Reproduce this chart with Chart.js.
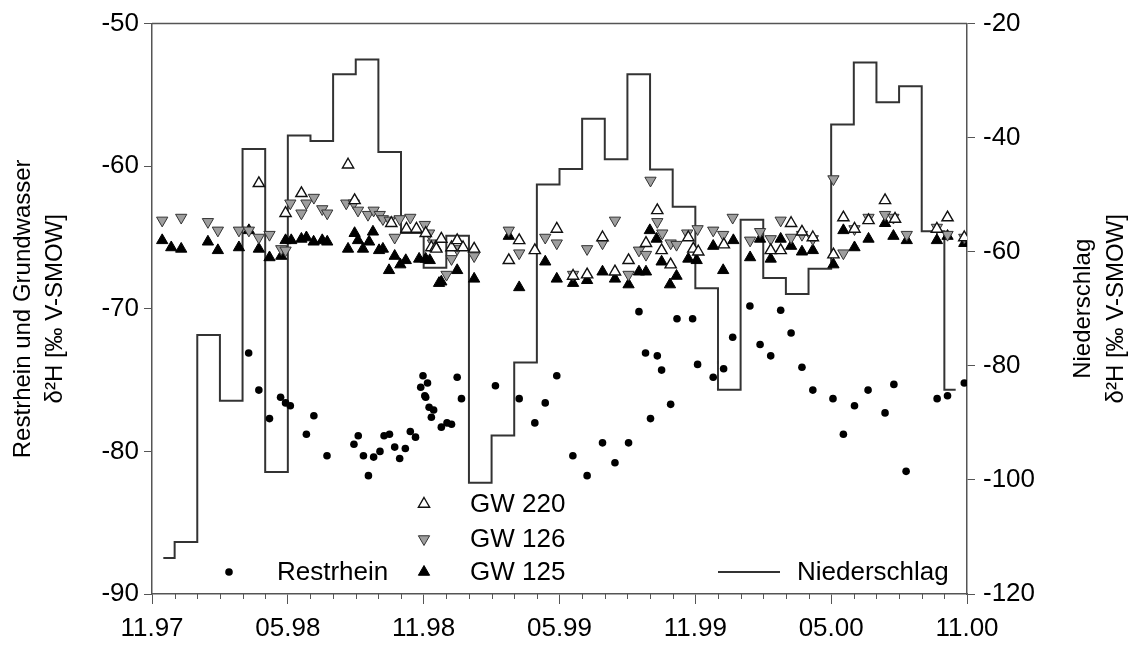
<!DOCTYPE html>
<html>
<head>
<meta charset="utf-8">
<script src="https://cdn.jsdelivr.net/npm/chart.js@4.4.1/dist/chart.umd.min.js"></script>
<style>
  body { margin: 0; background: #fff; }
  #wrap { width: 1132px; height: 646px; }
</style>
</head>
<body>
<div id="wrap"><canvas id="isoChart"></canvas></div>
<script>
// x-Achse: Monate seit 11.97 (0 = Nov 1997, 36 = Nov 2000)
const tickLabels = ["11.97", "05.98", "11.98", "05.99", "11.99", "05.00", "11.00"];

// Niederschlag, Monatswerte (Stufenlinie, rechte Achse)
const niederMonths = [0.5, 1, 2, 3, 4, 5, 6, 7, 8, 9, 10, 11, 12, 13, 14, 15, 16, 17,
  18, 19, 20, 21, 22, 23, 24, 25, 26, 27, 28, 29, 30, 31, 32, 33, 34, 35, 35.5];
const niederValues = [-113.7, -110.9, -74.6, -86.1, -42.0, -98.6, -39.6, -40.6, -28.9, -26.3,
  -42.5, -56.7, -62.8, -57.2, -100.5, -92.2, -79.4, -48.2, -45.5, -36.7, -43.8, -28.9,
  -45.6, -52.1, -66.4, -84.2, -54.4, -64.6, -67.4, -63.0, -37.7, -26.8, -33.8, -31.0,
  -56.4, -84.2, -84.2];

// Restrhein
const rheinMonths = [4.27, 4.72, 5.19, 5.68, 5.90, 6.11, 6.82, 7.15, 7.73, 8.92, 9.11, 9.34,
  9.56, 9.79, 10.07, 10.25, 10.49, 10.72, 10.94, 11.19, 11.41, 11.64, 11.87, 11.97, 12.05,
  12.09, 12.17, 12.24, 12.34, 12.44, 12.78, 13.03, 13.23, 13.48, 13.67, 15.17, 16.22, 16.91,
  17.37, 17.88, 18.59, 19.22, 19.90, 20.45, 21.05, 21.51, 21.80, 22.02, 22.32, 22.51, 22.91,
  23.19, 23.88, 24.10, 24.79, 25.25, 25.65, 26.41, 26.86, 27.33, 27.77, 28.23, 28.71, 29.19,
  30.08, 30.54, 31.03, 31.63, 32.38, 32.77, 33.31, 34.68, 35.14, 35.88];
const rheinValues = [-73.1, -75.7, -77.7, -76.2, -76.6, -76.8, -78.8, -77.5, -80.3, -79.5, -78.9, -80.3,
  -81.7, -80.4, -80.0, -78.9, -78.8, -79.7, -80.5, -79.8, -78.6, -79.0, -75.5, -74.7, -76.1,
  -76.2, -75.2, -76.9, -77.6, -77.1, -78.3, -78.0, -78.1, -74.8, -76.3, -75.4, -76.3, -78.0,
  -76.6, -74.7, -80.3, -81.7, -79.4, -80.8, -79.4, -70.2, -73.1, -77.7, -73.3, -74.3, -76.7,
  -70.7, -70.7, -73.9, -74.8, -74.2, -72.0, -69.8, -72.5, -73.3, -70.1, -71.7, -74.1, -75.7,
  -76.3, -78.8, -76.8, -75.7, -77.3, -75.3, -81.4, -76.3, -76.1, -75.2];

// GW 220
const gw220Months = [4.72, 5.90, 6.60, 8.66, 8.95, 10.57, 11.24, 11.68, 12.09, 12.34, 12.53, 12.56,
  12.78, 13.23, 13.48, 13.74, 14.23, 15.76, 16.22, 16.91, 17.88, 18.60, 19.22, 19.90, 20.45,
  21.05, 21.82, 22.32, 22.51, 22.91, 23.69, 23.91, 24.13, 25.26, 27.33, 27.77, 28.23, 28.71,
  29.19, 30.10, 30.54, 31.03, 31.65, 32.38, 32.82, 34.67, 35.14, 35.88];
const gw220Values = [-61.2, -63.3, -61.9, -59.9, -62.4, -64.0, -64.4, -64.4, -64.7, -65.7, -65.7, -65.8,
  -65.1, -65.7, -65.2, -65.7, -65.8, -66.6, -65.2, -65.9, -64.4, -67.7, -67.6, -65.0, -67.4,
  -66.6, -65.4, -63.1, -65.9, -66.9, -65.0, -65.8, -66.0, -65.5, -65.9, -65.9, -64.0, -64.6,
  -65.0, -66.2, -63.6, -64.4, -63.8, -62.4, -63.7, -64.4, -63.6, -65.0];

// GW 126
const gw126Months = [0.45, 1.29, 2.47, 2.91, 3.84, 4.28, 4.72, 5.19, 5.71, 5.90, 6.11, 6.60, 6.82,
  7.15, 7.52, 7.74, 8.58, 8.91, 9.10, 9.54, 9.79, 10.06, 10.20, 10.50, 10.72, 10.94, 11.41,
  12.05, 12.24, 12.41, 13.01, 13.23, 13.48, 14.23, 15.76, 16.22, 17.37, 17.88, 18.60, 19.22,
  19.90, 20.45, 21.05, 21.51, 21.82, 22.02, 22.32, 22.54, 22.91, 23.17, 23.64, 24.10, 24.79,
  25.23, 25.65, 26.42, 26.86, 27.33, 27.77, 28.23, 28.71, 29.19, 30.10, 30.54, 31.03, 31.65,
  32.38, 32.75, 33.34, 34.67, 35.14, 35.88];
const gw126Values = [-63.8, -63.6, -63.9, -64.5, -64.5, -64.5, -65.0, -64.8, -65.8, -65.9, -62.6, -63.3, -62.6,
  -62.2, -63.0, -63.3, -62.6, -62.6, -63.1, -63.4, -63.1, -63.4, -63.7, -63.8, -65.0, -63.7, -63.6,
  -64.1, -64.7, -65.4, -67.6, -66.5, -65.8, -66.3, -64.5, -66.1, -65.0, -65.4, -67.6, -65.8,
  -65.4, -63.8, -67.6, -65.9, -66.2, -61.0, -63.9, -64.7, -65.4, -65.5, -64.7, -64.4, -64.5,
  -64.8, -63.6, -65.2, -64.6, -65.1, -63.8, -65.0, -64.8, -65.1, -60.9, -66.1, -64.4, -63.6,
  -63.4, -63.6, -64.8, -64.3, -64.8, -65.0];

// GW 125
const gw125Months = [0.45, 0.85, 1.29, 2.47, 2.91, 3.84, 4.28, 4.72, 5.19, 5.71, 5.90, 6.15, 6.60,
  6.82, 7.14, 7.52, 7.74, 8.66, 8.95, 9.10, 9.32, 9.59, 9.76, 10.03, 10.20, 10.47, 10.72, 10.97,
  11.21, 11.80, 12.09, 12.27, 12.68, 12.78, 13.48, 14.23, 15.76, 16.22, 17.37, 17.88, 18.60,
  19.22, 19.90, 20.45, 21.05, 21.51, 21.82, 21.99, 22.29, 22.51, 22.88, 23.17, 23.69, 24.06,
  24.79, 25.23, 25.68, 26.42, 26.86, 27.33, 27.77, 28.23, 28.71, 29.19, 30.10, 30.54, 31.03,
  31.65, 32.38, 32.75, 33.34, 34.67, 35.14, 35.88];
const gw125Values = [-65.2, -65.7, -65.8, -65.3, -65.9, -65.7, -64.5, -65.8, -66.4, -66.3, -65.2, -65.2, -65.1,
  -65.0, -65.3, -65.2, -65.3, -65.8, -64.7, -65.2, -65.8, -65.3, -64.6, -65.9, -65.8, -67.3, -66.3, -66.9,
  -66.6, -66.5, -66.5, -66.6, -68.2, -68.1, -67.3, -67.9, -64.9, -68.5, -66.7, -67.9, -68.2,
  -68.0, -67.4, -67.9, -68.3, -67.4, -67.4, -64.5, -65.1, -66.7, -68.3, -67.7, -66.5, -66.6,
  -65.6, -67.3, -65.2, -66.4, -65.1, -66.5, -65.1, -65.6, -66.0, -65.9, -66.9, -64.5, -65.7,
  -65.1, -64.0, -64.9, -65.2, -65.2, -64.9, -65.4];

const toPoints = (xs, ys) => xs.map((x, i) => ({ x: x, y: ys[i] }));

const fontFamily = "'Liberation Sans', Arial, sans-serif";
const axisColor = "#555";

// Legende wird selbst gezeichnet (Anordnung wie im Original)
const legendSpots = [
  { ds: 4, label: "GW 220", sx: 424, tx: 470, y: 504 },
  { ds: 3, label: "GW 126", sx: 424, tx: 470, y: 539 },
  { ds: 1, label: "Restrhein", sx: 229, tx: 277, y: 572 },
  { ds: 2, label: "GW 125", sx: 424, tx: 470, y: 572 },
  { ds: 0, label: "Niederschlag", sx: 749, tx: 797, y: 572 }
];

const extrasPlugin = {
  id: "extras",
  afterDraw(chart) {
    const ctx = chart.ctx;
    const area = chart.chartArea;
    const xs = chart.scales.x;
    ctx.save();

    // Rahmen oben
    ctx.strokeStyle = axisColor;
    ctx.lineWidth = 1.5;
    ctx.beginPath();
    ctx.moveTo(area.left, area.top);
    ctx.lineTo(area.right, area.top);
    ctx.stroke();

    // Zwischenstriche (Monate)
    ctx.lineWidth = 1;
    ctx.beginPath();
    for (let m = 1; m < 36; m++) {
      if (m % 6 === 0) continue;
      const x = Math.round(xs.getPixelForValue(m)) + 0.5;
      ctx.moveTo(x, area.bottom);
      ctx.lineTo(x, area.bottom + 5);
    }
    ctx.stroke();

    // Titel rechte Achse (von unten nach oben gelesen)
    ctx.fillStyle = "#000";
    ctx.font = "24px " + fontFamily;
    ctx.textAlign = "center";
    ctx.textBaseline = "middle";
    ctx.save();
    ctx.translate(1083, (area.top + area.bottom) / 2);
    ctx.rotate(-Math.PI / 2);
    ctx.fillText("Niederschlag", 0, 0);
    ctx.fillText("δ²H [‰ V-SMOW]", 0, 33);
    ctx.restore();

    // Legende
    ctx.font = "26px " + fontFamily;
    ctx.textAlign = "left";
    legendSpots.forEach(item => {
      const ds = chart.data.datasets[item.ds];
      if (ds.type === "line") {
        ctx.strokeStyle = ds.borderColor;
        ctx.lineWidth = ds.borderWidth;
        ctx.beginPath();
        ctx.moveTo(item.sx - 31, item.y);
        ctx.lineTo(item.sx + 31, item.y);
        ctx.stroke();
      } else {
        ctx.fillStyle = ds.backgroundColor;
        ctx.strokeStyle = ds.borderColor;
        ctx.lineWidth = ds.borderWidth;
        Chart.helpers.drawPoint(ctx, {
          pointStyle: ds.pointStyle,
          rotation: ds.rotation || 0,
          radius: ds.pointRadius,
          borderWidth: ds.borderWidth
        }, item.sx, item.y);
      }
      ctx.fillStyle = "#000";
      ctx.fillText(item.label, item.tx, item.y + 1);
    });
    ctx.restore();
  }
};

new Chart(document.getElementById("isoChart"), {
  type: "scatter",
  data: {
    datasets: [
      {
        type: "line",
        label: "Niederschlag",
        data: toPoints(niederMonths, niederValues),
        yAxisID: "y2",
        stepped: true,
        borderColor: "#333",
        borderWidth: 2,
        pointRadius: 0,
        fill: false,
        order: 10
      },
      {
        label: "Restrhein",
        data: toPoints(rheinMonths, rheinValues),
        yAxisID: "y",
        pointStyle: "circle",
        pointRadius: 3.8,
        backgroundColor: "#000",
        borderColor: "#000",
        borderWidth: 0,
        order: 4
      },
      {
        label: "GW 125",
        data: toPoints(gw125Months, gw125Values),
        yAxisID: "y",
        pointStyle: "triangle",
        pointRadius: 6.5,
        backgroundColor: "#000",
        borderColor: "#000",
        borderWidth: 1,
        order: 3
      },
      {
        label: "GW 126",
        data: toPoints(gw126Months, gw126Values),
        yAxisID: "y",
        pointStyle: "triangle",
        rotation: 180,
        pointRadius: 6.5,
        backgroundColor: "#9e9e9e",
        borderColor: "#333",
        borderWidth: 1,
        order: 2
      },
      {
        label: "GW 220",
        data: toPoints(gw220Months, gw220Values),
        yAxisID: "y",
        pointStyle: "triangle",
        pointRadius: 6.5,
        backgroundColor: "#fff",
        borderColor: "#111",
        borderWidth: 1.4,
        order: 1
      }
    ]
  },
  options: {
    responsive: true,
    maintainAspectRatio: false,
    animation: false,
    layout: { padding: { top: 22, left: 0, right: 0, bottom: 0 } },
    plugins: {
      legend: { display: false },
      tooltip: { enabled: false }
    },
    scales: {
      x: {
        type: "linear",
        min: 0,
        max: 36,
        afterFit: s => { s.height = 52; },
        grid: { drawOnChartArea: false, tickLength: 10, color: axisColor },
        border: { color: axisColor, width: 1.5 },
        ticks: {
          stepSize: 6,
          autoSkip: false,
          maxRotation: 0,
          padding: 9,
          color: "#000",
          font: { family: fontFamily, size: 26 },
          callback: v => tickLabels[v / 6]
        }
      },
      y: {
        position: "left",
        min: -90,
        max: -50,
        afterFit: s => { s.width = 152; },
        grid: { drawOnChartArea: false, tickLength: 8, color: axisColor },
        border: { color: axisColor, width: 1.5 },
        ticks: {
          stepSize: 10,
          padding: 5,
          color: "#000",
          font: { family: fontFamily, size: 26 }
        },
        title: {
          display: true,
          text: ["Restrhein und Grundwasser", "δ²H [‰ V-SMOW]"],
          color: "#000",
          font: { family: fontFamily, size: 24, lineHeight: 1.35 },
          padding: { top: 7, bottom: 0 }
        }
      },
      y2: {
        position: "right",
        min: -120,
        max: -20,
        afterFit: s => { s.width = 165; },
        grid: { drawOnChartArea: false, tickLength: 8, color: axisColor },
        border: { color: axisColor, width: 1.5 },
        ticks: {
          stepSize: 20,
          padding: 8,
          color: "#000",
          font: { family: fontFamily, size: 26 }
        }
      }
    }
  },
  plugins: [extrasPlugin]
});
</script>
</body>
</html>
